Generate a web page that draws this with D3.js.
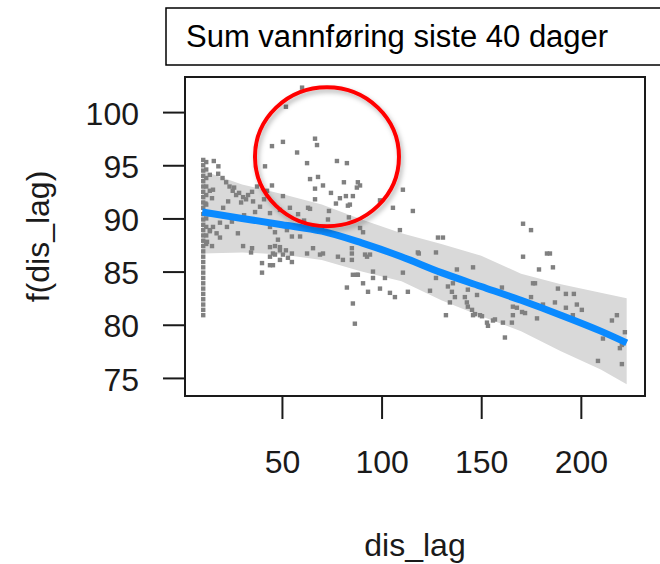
<!DOCTYPE html>
<html>
<head>
<meta charset="utf-8">
<title></title>
<style>
  body { margin: 0; background: #fff; font-family: "Liberation Sans", Arial, sans-serif; }
  svg { display: block; }
  .axis text { font-size: 32px; fill: #1a1a1a; font-family: "Liberation Sans", Arial, sans-serif; }
  .axis line { stroke: #1a1a1a; stroke-width: 2; }
</style>
<script src="https://d3js.org/d3.v7.min.js"></script>
</head>
<body>
<script>
// tick labels
const xTicks = [50, 100, 150, 200]
const yTicks = [75, 80, 85, 90, 95, 100]

// partial residuals (dis_lag, f(dis_lag))
const disLag = [
  // strip at the left edge
  10.5,10.5,10.5,10.5,10.5,10.5,10.5,10.5,10.5,10.5,
  10.5,10.5,10.5,10.5,10.5,10.5,10.5,10.5,10.5,10.5,
  10.5,10.5,10.5,10.5,10.5,10.5,10.5,10.5,10.5,10.5,
  12.0,12.0,12.0,12.0,12.0,12.0,12.0,12.0,12.0,12.0,
  13.8,13.8,13.8,13.8,
  // left
  15.8,18.1,18.0,20.2,22.0,23.7,25.3,27.0,28.5,30.5,
  33.0,35.0,35.5,39.0,37.5,15.4,14.9,11.6,15.4,18.9,
  22.4,24.9,27.9,13.9,17.2,18.9,12.4,14.9,30.5,34.5,
  35.0,40.0,40.0,44.0,49.0,54.0,58.1,61.1,59.1,52.5,
  55.0,44.0,46.5,48.0,46.5,49.0,46.5,49.0,50.5,52.0,
  53.0,44.0,44.0,44.0,45.5,45.5,49.0,55.0,55.0,26.0,
  29.5,32.0,20.5,23.0,31.0,36.5,41.0,42.5,
  // middle
  62.6,65.6,69.1,70.6,78.1,80.6,85.1,85.1,85.1,87.6,
  90.7,82.6,93.2,95.7,95.7,99.2,101.7,104.2,106.7,85.6,
  86.6,91.7,94.2,92.7,85.6,88.1,110.7,113.2,109.2,118.2,
  89.2,90.7,
  // upper cloud
  60.1,52.0,45.0,50.5,57.6,66.6,67.6,62.6,77.6,82.6,
  41.5,64.1,68.1,70.6,66.6,66.6,74.6,81.1,88.1,89.2,
  87.6,82.1,85.6,79.1,77.1,83.1,84.1,73.6,64.1,83.6,
  73.1,45.0,50.5,63.1,99.2,110.7,105.7,115.7,
  // right
  128.3,130.8,118.7,127.3,137.8,145.9,127.3,124.3,133.3,135.8,
  135.3,134.3,136.8,143.3,141.8,142.8,143.3,145.4,147.9,146.9,
  150.4,132.3,152.9,153.4,156.9,155.9,160.4,160.9,165.4,161.9,
  165.9,167.9,170.5,172.0,165.9,145.9,149.4,171.0,175.0,171.0,
  176.0,175.0,183.0,184.5,179.0,186.0,177.0,188.5,192.5,196.5,
  187.0,192.5,198.0,200.5,196.0,178.0,181.0,215.6,218.1,222.1,
  211.1,219.6,220.6,208.6,220.6,221.1
]
const fDisLag = [
  80.9,81.4,81.9,82.4,82.9,83.4,83.9,84.4,84.9,85.4,
  85.9,86.4,86.9,87.4,87.9,88.4,88.9,89.4,89.9,90.4,
  91.0,91.5,92.0,92.5,93.0,93.5,94.0,94.5,95.0,95.5,
  95.3,94.6,93.8,93.0,92.2,91.3,90.0,89.2,88.4,87.6,
  94.1,92.6,90.4,88.8,
  95.4,94.9,94.2,93.8,93.4,93.0,92.6,92.2,92.4,92.0,
  92.2,92.5,91.6,91.1,93.0,92.7,91.9,91.4,89.2,89.6,
  89.2,89.7,88.6,88.9,88.6,88.2,87.8,87.4,87.4,86.8,
  87.2,85.8,84.9,90.5,90.8,91.0,90.4,89.8,88.3,88.9,
  88.3,89.2,88.7,88.0,87.4,87.0,86.6,86.1,86.6,87.0,
  86.3,87.3,86.4,85.6,86.7,85.6,87.3,86.7,85.9,92.9,
  91.5,91.8,91.0,91.6,90.3,90.6,91.8,92.6,
  86.7,87.2,86.6,86.7,86.4,86.1,87.2,86.7,86.1,84.7,
  83.9,83.5,83.1,85.0,84.4,83.4,84.4,83.0,82.6,82.0,
  80.1,86.6,86.6,86.4,84.7,84.7,84.9,83.1,88.9,86.8,
  89.1,88.7,
  102.3,100.5,96.8,97.2,96.2,97.5,96.9,95.2,95.4,95.2,
  94.9,93.7,93.9,93.1,92.8,91.8,92.4,93.4,93.4,93.1,
  92.9,92.1,92.1,91.9,91.4,91.2,91.3,90.7,90.9,90.1,
  89.9,93.1,92.1,91.0,91.7,92.7,91.0,90.7,
  88.2,88.2,86.7,86.8,85.2,85.4,84.4,83.2,83.6,83.9,
  83.1,82.1,82.6,83.3,82.6,82.1,81.7,81.4,82.8,81.0,
  80.8,80.9,80.2,79.9,80.5,80.4,83.5,80.2,80.2,78.8,
  81.7,81.6,81.2,81.1,80.9,80.9,80.9,89.5,88.9,86.4,
  83.9,82.6,86.7,86.7,85.2,85.4,83.9,83.4,82.9,82.9,
  82.1,81.6,81.9,81.4,80.9,80.6,81.9,80.4,80.9,79.3,
  78.7,77.8,78.1,76.6,76.3,78.4
]

// smooth and its confidence band
const smoothX     = [10, 30, 50, 70, 90, 110, 130, 150, 170, 190, 210, 223]
const smoothFit   = [90.6, 90.0, 89.4, 88.8, 87.7, 86.4, 84.9, 83.6, 82.3, 80.9, 79.4, 78.3]
const smoothUpper = [94.5, 93.2, 92.3, 91.3, 89.9, 88.6, 87.6, 86.5, 84.8, 83.8, 83.0, 82.5]
const smoothLower = [86.7, 86.8, 86.6, 86.1, 85.0, 84.1, 82.3, 80.8, 79.4, 77.5, 75.8, 74.4]

const titleText = "Sum vannføring siste 40 dager"
const xLabel = "dis_lag"
const yLabel = "f(dis_lag)"
// the red ring drawn around the upper cloud
const ringCenter = [72.6, 95.8]

const W = 660, H = 564
const plot = { left: 185, right: 645, top: 77, bottom: 396 }

const svg = d3.select("body").append("svg")
  .attr("width", W).attr("height", H)

const x = d3.scaleLinear().domain([1.35, 232.2]).range([plot.left, plot.right])
const y = d3.scaleLinear().domain([73.3, 103.3]).range([plot.bottom, plot.top])

const band = smoothX.map((d, i) => ({ x: d, lo: smoothLower[i], hi: smoothUpper[i], fit: smoothFit[i] }))

// confidence band
svg.append("path")
  .datum(band)
  .attr("fill", "#d9d9d9")
  .attr("d", d3.area().x(d => x(d.x)).y0(d => y(d.lo)).y1(d => y(d.hi)))

// points
const pts = disLag.map((d, i) => [d, fDisLag[i]])
svg.append("g").selectAll("rect")
  .data(pts)
  .enter().append("rect")
  .attr("x", d => x(d[0]) - 2.2)
  .attr("y", d => y(d[1]) - 2.2)
  .attr("width", 4.4).attr("height", 4.4)
  .attr("fill", "#808080")

// smooth
svg.append("path")
  .datum(band)
  .attr("fill", "none")
  .attr("stroke", "#0a8aff")
  .attr("stroke-width", 7)
  .attr("d", d3.line().x(d => x(d.x)).y(d => y(d.fit)).curve(d3.curveMonotoneX))

// box
svg.append("rect")
  .attr("x", plot.left).attr("y", plot.top)
  .attr("width", plot.right - plot.left).attr("height", plot.bottom - plot.top)
  .attr("fill", "none").attr("stroke", "#1a1a1a").attr("stroke-width", 2)

// axes
const yAxis = svg.append("g").attr("class", "axis")
  .attr("transform", "translate(" + plot.left + ",0)")
  .call(d3.axisLeft(y).tickValues(yTicks).tickSize(22).tickPadding(24))
yAxis.select(".domain").remove()
yAxis.selectAll("text").attr("dy", "0.38em")

const xAxis = svg.append("g").attr("class", "axis")
  .attr("transform", "translate(0," + plot.bottom + ")")
  .call(d3.axisBottom(x).tickValues(xTicks).tickSize(23).tickPadding(31))
xAxis.select(".domain").remove()

// axis titles
svg.append("text")
  .attr("x", (plot.left + plot.right) / 2).attr("y", 556)
  .attr("text-anchor", "middle")
  .attr("font-size", "32px").attr("fill", "#1a1a1a")
  .text(xLabel)

svg.append("text")
  .attr("transform", "translate(49," + (plot.top + plot.bottom) / 2 + ") rotate(-90)")
  .attr("text-anchor", "middle")
  .attr("font-size", "32px").attr("fill", "#1a1a1a")
  .text(yLabel)

// red ring
const defs = svg.append("defs")
defs.append("filter").attr("id", "shade")
  .attr("x", "-20%").attr("y", "-20%").attr("width", "140%").attr("height", "140%")
  .append("feDropShadow")
  .attr("dx", 2).attr("dy", 3).attr("stdDeviation", 2.5)
  .attr("flood-color", "#000").attr("flood-opacity", 0.3)

svg.append("ellipse")
  .attr("cx", x(ringCenter[0])).attr("cy", y(ringCenter[1]))
  .attr("rx", 72).attr("ry", 69.5)
  .attr("fill", "none").attr("stroke", "#ff0000").attr("stroke-width", 4)
  .attr("filter", "url(#shade)")

// title box
svg.append("rect")
  .attr("x", 166).attr("y", 8).attr("width", 520).attr("height", 57)
  .attr("fill", "#fff").attr("stroke", "#000").attr("stroke-width", 1.5)

svg.append("text")
  .attr("x", 186).attr("y", 47)
  .attr("font-size", "31px").attr("fill", "#000")
  .text(titleText)
</script>
</body>
</html>
